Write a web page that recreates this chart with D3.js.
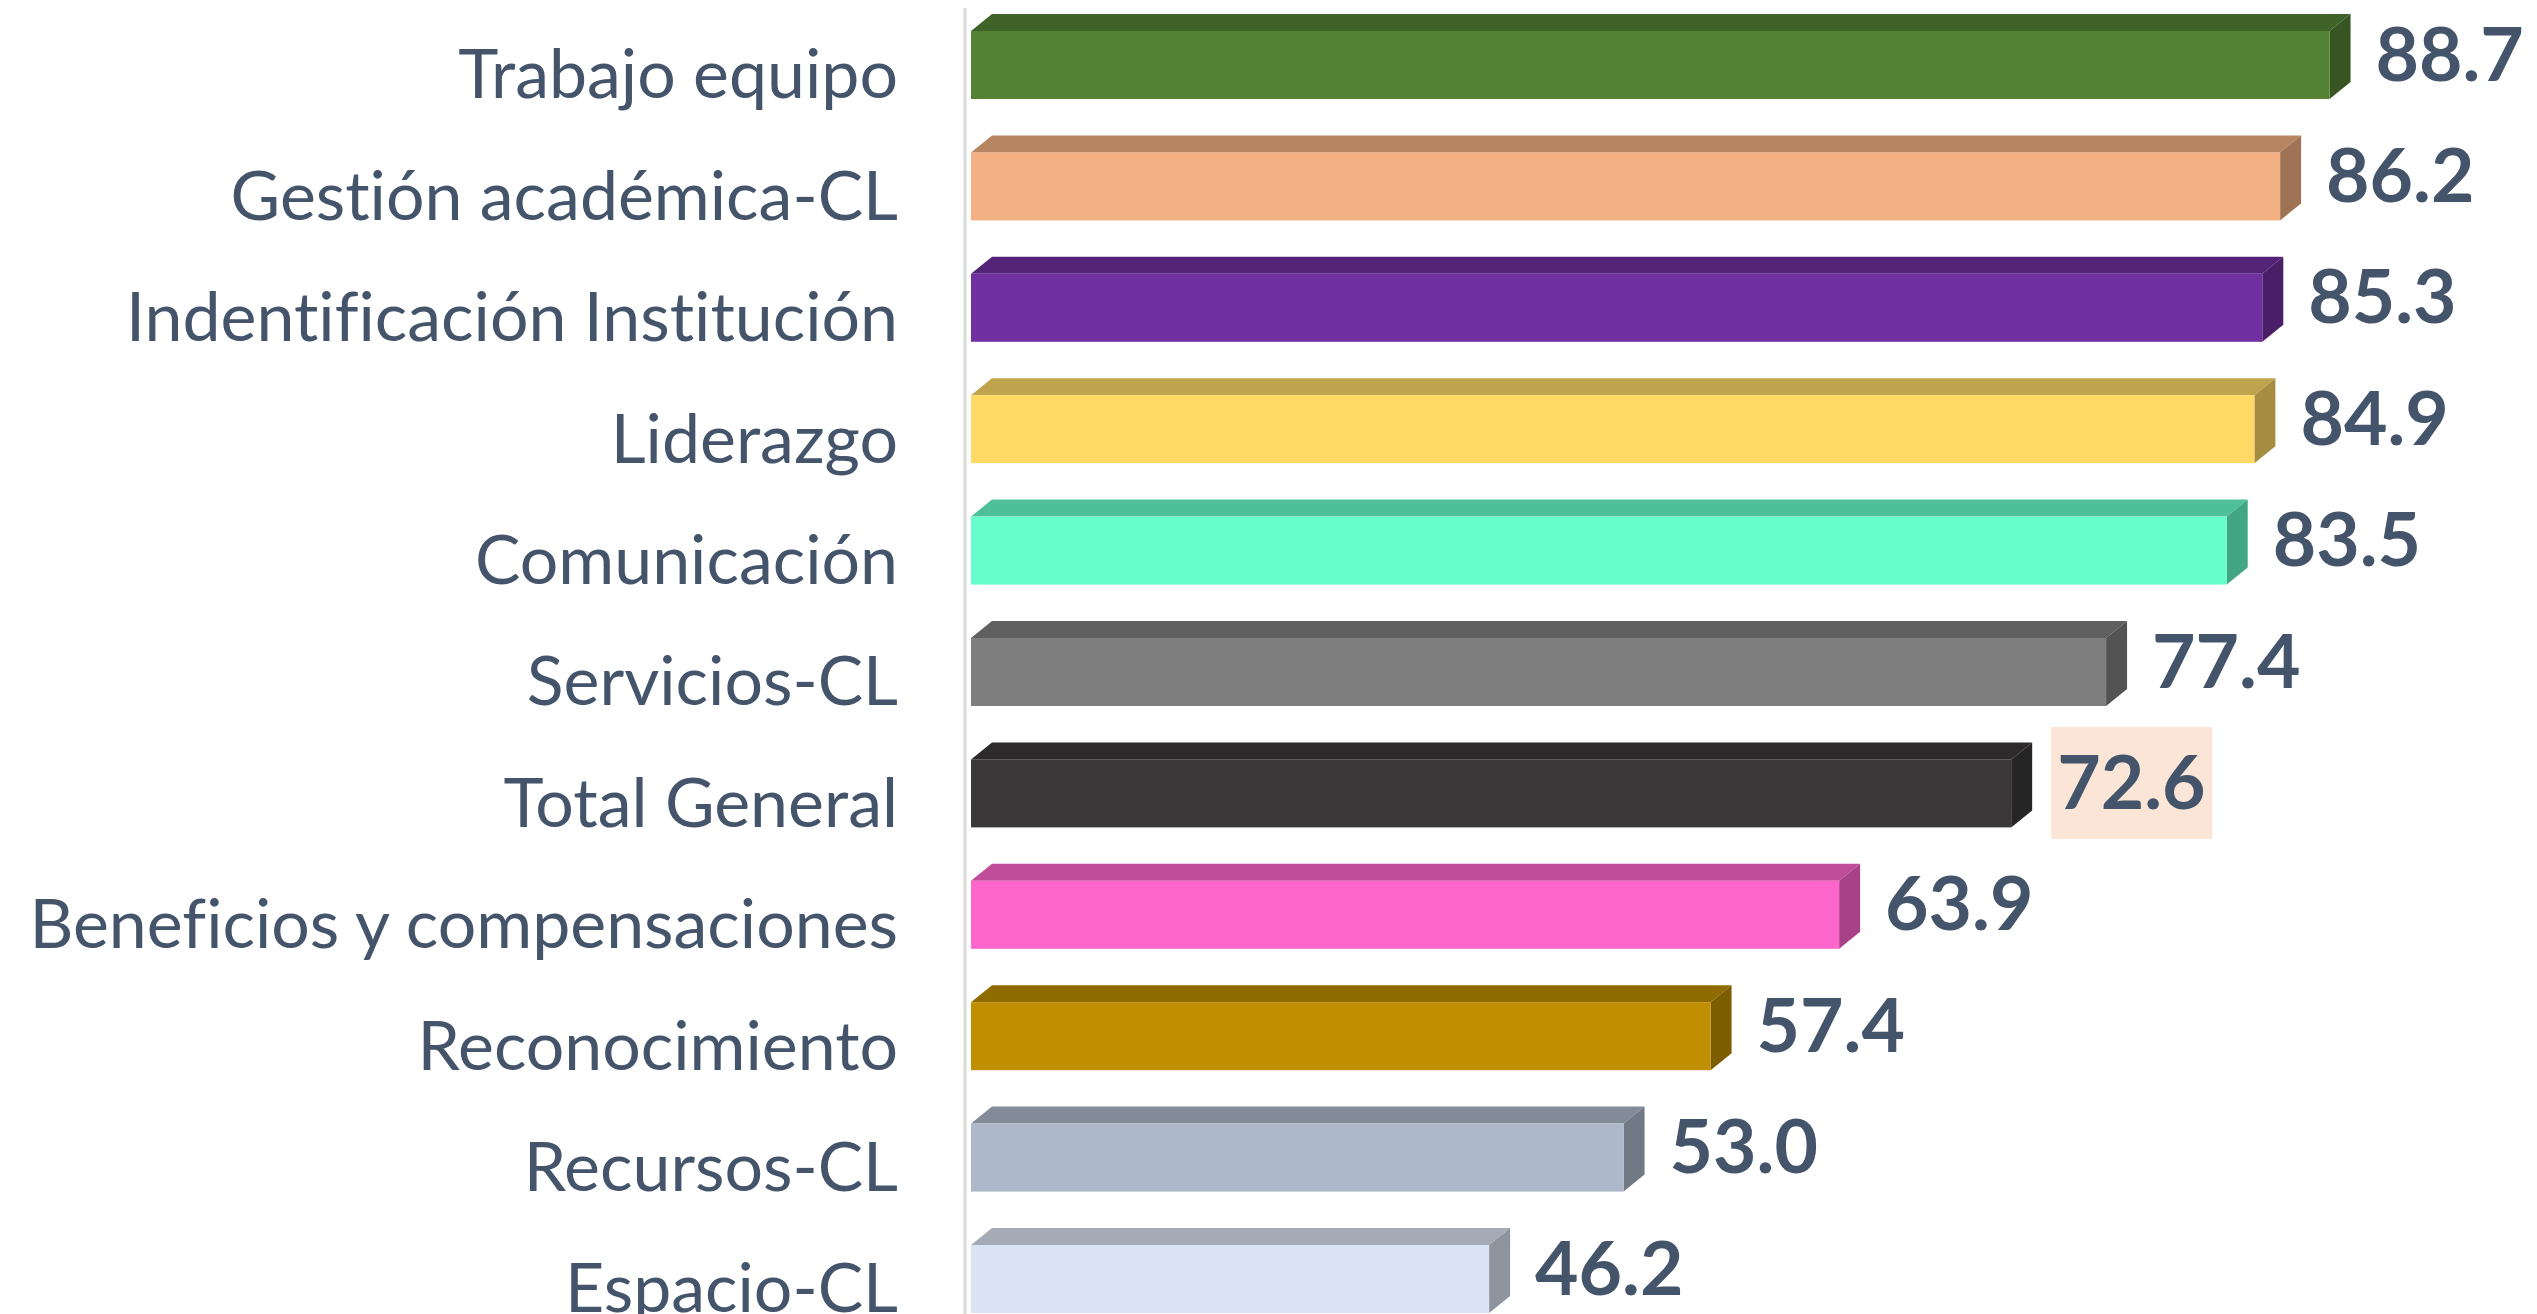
<!DOCTYPE html>
<html>
<head>
<meta charset="utf-8">
<script src="https://cdn.jsdelivr.net/npm/d3@7"></script>
<style>
  html, body { margin: 0; padding: 0; background: #ffffff; overflow: hidden; }
  text { font-variant-ligatures: none; }
</style>
</head>
<body>
<div id="divChart"></div>
<script>
// data (top to bottom)
var categories = [
  'Trabajo equipo',
  'Gestión académica-CL',
  'Indentificación Institución',
  'Liderazgo',
  'Comunicación',
  'Servicios-CL',
  'Total General',
  'Beneficios y compensaciones',
  'Reconocimiento',
  'Recursos-CL',
  'Espacio-CL'
]
var values = [88.7, 86.2, 85.3, 84.9, 83.5, 77.4, 72.6, 63.9, 57.4, 53.0, 46.2]
var barColors = ['#548235', '#f4b183', '#7030a0', '#ffd966', '#66ffcc', '#7f7f7f',
  '#3a3838', '#ff66cc', '#bf8f00', '#adb9ca', '#dae3f3']
var highlighted = 'Total General'
var xDomain = [20, 100]

// layout settings
var chart = {}
chart.width = 2537
chart.height = 1314
chart.axisX = 965
chart.depthX = 21
chart.depthY = 17
chart.textColor = '#44546a'

function initChart () {
  chart.xScale = d3.scaleLinear().domain(xDomain).range([971, 2553])
  chart.yScale = d3.scaleBand()
    .domain(categories)
    .range([4.3, 4.3 + 11 * 121.4])
    .paddingInner(0.44)
    .paddingOuter(0.22)

  chart.svg = d3
    .select('#divChart')
    .append('svg')
    .attr('width', chart.width)
    .attr('height', chart.height)

  // vertical category axis line
  chart.svg
    .append('line')
    .attr('x1', chart.axisX)
    .attr('x2', chart.axisX)
    .attr('y1', 8)
    .attr('y2', chart.height)
    .attr('stroke', '#d9d9d9')
    .attr('stroke-width', 3)

  // category labels via a left axis, without ticks and domain
  var yAxis = d3.axisLeft(chart.yScale).tickSize(0).tickPadding(0)
  chart.svg
    .append('g')
    .attr('id', 'g-yAxis')
    .attr('transform', 'translate(898,0)')
    .call(yAxis)
    .call(function (g) { g.select('.domain').remove() })
    .selectAll('text')
    .attr('fill', chart.textColor)
    .attr('font-family', 'Lato, "Open Sans", sans-serif')
    .attr('font-size', 68)
    .attr('dy', '0.49em')
}

// draws the pseudo 3d bars: front face, top face and right side face
function drawBars () {
  var data = categories.map(function (c, i) {
    return { cat: c, val: values[i], color: barColors[i] }
  })
  var dx = chart.depthX
  var dy = chart.depthY
  var x0 = chart.xScale(xDomain[0])

  var gBars = chart.svg
    .append('g')
    .attr('id', 'g-bars')
    .selectAll('g')
    .data(data)
    .enter()
    .append('g')

  // top face
  gBars
    .append('path')
    .attr('d', function (d) {
      var y = chart.yScale(d.cat)
      var x1 = chart.xScale(d.val)
      return 'M' + x0 + ',' + y + 'L' + (x0 + dx) + ',' + (y - dy) +
        'L' + (x1 + dx) + ',' + (y - dy) + 'L' + x1 + ',' + y + 'Z'
    })
    .attr('fill', function (d) { return d3.rgb(d.color).darker(0.8) })

  // side face
  gBars
    .append('path')
    .attr('d', function (d) {
      var y = chart.yScale(d.cat)
      var h = chart.yScale.bandwidth()
      var x1 = chart.xScale(d.val)
      return 'M' + x1 + ',' + y + 'L' + (x1 + dx) + ',' + (y - dy) +
        'L' + (x1 + dx) + ',' + (y + h - dy) + 'L' + x1 + ',' + (y + h) + 'Z'
    })
    .attr('fill', function (d) { return d3.rgb(d.color).darker(1.2) })

  // front face
  gBars
    .append('rect')
    .attr('x', x0)
    .attr('y', function (d) { return chart.yScale(d.cat) })
    .attr('width', function (d) { return chart.xScale(d.val) - x0 })
    .attr('height', chart.yScale.bandwidth())
    .attr('fill', function (d) { return d.color })

  // value labels, one of them with a highlight box
  var gLabels = chart.svg
    .append('g')
    .attr('id', 'g-labels')
    .selectAll('g')
    .data(data)
    .enter()
    .append('g')
    .attr('transform', function (d) {
      var yMid = chart.yScale(d.cat) + chart.yScale.bandwidth() / 2 - dy / 2 - 3
      return 'translate(' + (chart.xScale(d.val) + dx + 25) + ',' + yMid + ')'
    })

  gLabels
    .filter(function (d) { return d.cat === highlighted })
    .append('rect')
    .attr('x', -6)
    .attr('y', -55)
    .attr('width', 161)
    .attr('height', 112)
    .attr('fill', '#fbe5d6')

  gLabels
    .append('text')
    .attr('dy', '0.36em')
    .attr('fill', chart.textColor)
    .attr('font-family', 'Lato, "Open Sans", sans-serif')
    .attr('font-weight', 'bold')
    .attr('font-size', 75)
    .text(function (d) { return d3.format('.1f')(d.val) })
}

initChart()
drawBars()
</script>
</body>
</html>
